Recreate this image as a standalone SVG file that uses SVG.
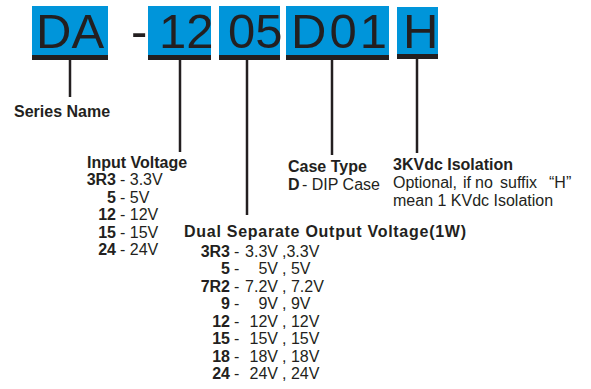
<svg xmlns="http://www.w3.org/2000/svg" width="591" height="389" viewBox="0 0 591 389">
<style>
.box{fill:#0095DA}
.bar{fill:#231f20}
.big{font-family:"Liberation Sans",Arial,sans-serif;font-size:49px;fill:#231f20}
.b{font-family:"Liberation Sans",Arial,sans-serif;font-size:16px;font-weight:bold;fill:#231f20}
.r{font-family:"Liberation Sans",Arial,sans-serif;font-size:16px;fill:#231f20}
.ln{stroke:#231f20;stroke-width:2.5;fill:none}
</style>
<rect width="591" height="389" fill="#ffffff"/>
<g id="seg-DA">
<rect class="box" x="32" y="6" width="76" height="49"/>
<rect class="bar" x="32" y="55" width="76" height="5"/>
<text class="big" x="36" y="48">DA</text>
</g>
<g id="dash">
<text class="big" x="131" y="48">-</text>
</g>
<g id="seg-12">
<rect class="box" x="148" y="6" width="63" height="49"/>
<rect class="bar" x="148" y="55" width="63" height="5"/>
<text class="big" x="159" y="48">12</text>
</g>
<g id="seg-05">
<rect class="box" x="219" y="6" width="61" height="49"/>
<rect class="bar" x="219" y="55" width="61" height="5"/>
<text class="big" x="228" y="48">05</text>
</g>
<g id="seg-D01">
<rect class="box" x="286" y="6" width="103" height="49"/>
<rect class="bar" x="286" y="55" width="103" height="5"/>
<text class="big" x="291" y="48" letter-spacing="3">D01</text>
</g>
<g id="seg-H">
<rect class="box" x="397" y="7" width="41" height="47"/>
<rect class="bar" x="397" y="54" width="41" height="5"/>
<text class="big" x="403" y="48">H</text>
</g>
<g id="connectors">
<line class="ln" x1="70" y1="60" x2="70" y2="97"/>
<line class="ln" x1="180" y1="60" x2="180" y2="152"/>
<line class="ln" x1="247" y1="60" x2="247" y2="215"/>
<line class="ln" x1="332" y1="60" x2="332" y2="155"/>
<line class="ln" x1="417" y1="59" x2="417" y2="153"/>
</g>
<g id="series-name">
<text class="b" x="14" y="117">Series Name</text>
</g>
<g id="input-voltage">
<text class="b" x="87" y="168">Input Voltage</text>
<text class="b" x="116" y="185" text-anchor="end">3R3</text><text class="r" x="120" y="185">- 3.3V</text>
<text class="b" x="116" y="202.5" text-anchor="end">5</text><text class="r" x="120" y="202.5">- 5V</text>
<text class="b" x="116" y="220" text-anchor="end">12</text><text class="r" x="120" y="220">- 12V</text>
<text class="b" x="116" y="237.5" text-anchor="end">15</text><text class="r" x="120" y="237.5">- 15V</text>
<text class="b" x="116" y="255" text-anchor="end">24</text><text class="r" x="120" y="255">- 24V</text>
</g>
<g id="case-type">
<text class="b" x="288" y="172">Case Type</text>
<text class="b" x="288" y="190">D</text><text class="r" x="302" y="190">- DIP Case</text>
</g>
<g id="isolation">
<text class="b" x="393" y="170">3KVdc Isolation</text>
<text class="r" y="188"><tspan x="393">Optional,</tspan><tspan x="463">if</tspan><tspan x="475">no</tspan><tspan x="500">suffix</tspan><tspan x="549">“H”</tspan></text>
<text class="r" x="393" y="206">mean 1 KVdc Isolation</text>
</g>
<g id="output-voltage">
<text class="b" x="184" y="237" textLength="282" lengthAdjust="spacing">Dual Separate Output Voltage(1W)</text>
<text class="b" x="230" y="256.5" text-anchor="end">3R3</text><text class="r" x="234" y="256.5">-</text><text class="r" x="278" y="256.5" text-anchor="end">3.3V</text><text class="r" x="282" y="256.5">,3.3V</text>
<text class="b" x="230" y="274" text-anchor="end">5</text><text class="r" x="234" y="274">-</text><text class="r" x="278" y="274" text-anchor="end">5V</text><text class="r" x="282" y="274">, 5V</text>
<text class="b" x="230" y="291.5" text-anchor="end">7R2</text><text class="r" x="234" y="291.5">-</text><text class="r" x="278" y="291.5" text-anchor="end">7.2V</text><text class="r" x="282" y="291.5">, 7.2V</text>
<text class="b" x="230" y="309" text-anchor="end">9</text><text class="r" x="234" y="309">-</text><text class="r" x="278" y="309" text-anchor="end">9V</text><text class="r" x="282" y="309">, 9V</text>
<text class="b" x="230" y="326.5" text-anchor="end">12</text><text class="r" x="234" y="326.5">-</text><text class="r" x="278" y="326.5" text-anchor="end">12V</text><text class="r" x="282" y="326.5">, 12V</text>
<text class="b" x="230" y="344" text-anchor="end">15</text><text class="r" x="234" y="344">-</text><text class="r" x="278" y="344" text-anchor="end">15V</text><text class="r" x="282" y="344">, 15V</text>
<text class="b" x="230" y="361.5" text-anchor="end">18</text><text class="r" x="234" y="361.5">-</text><text class="r" x="278" y="361.5" text-anchor="end">18V</text><text class="r" x="282" y="361.5">, 18V</text>
<text class="b" x="230" y="379" text-anchor="end">24</text><text class="r" x="234" y="379">-</text><text class="r" x="278" y="379" text-anchor="end">24V</text><text class="r" x="282" y="379">, 24V</text>
</g>
</svg>
